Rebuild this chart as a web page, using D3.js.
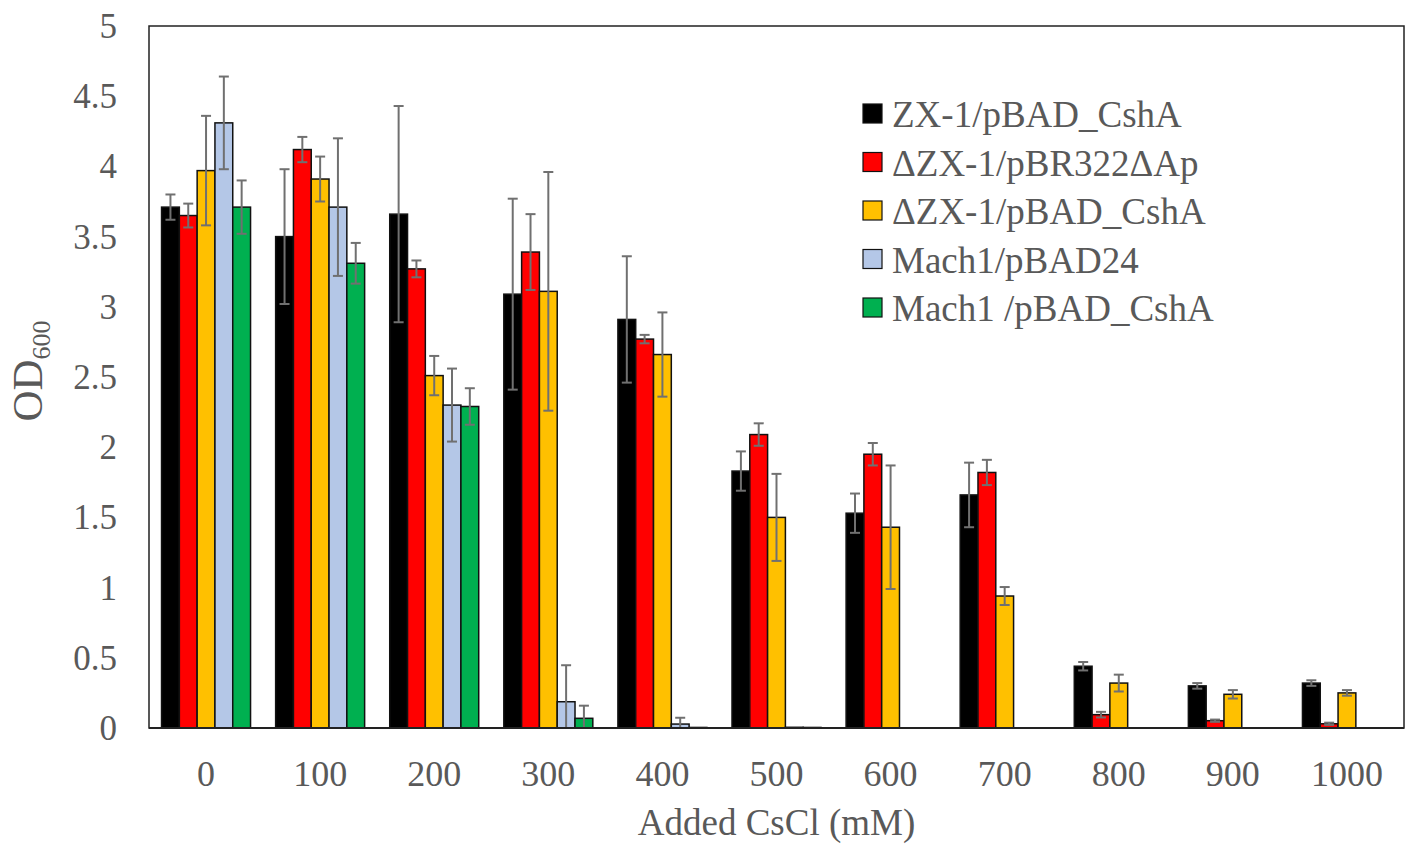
<!DOCTYPE html>
<html>
<head>
<meta charset="utf-8">
<script src="https://cdn.jsdelivr.net/npm/d3@7"></script>
<style>
  body { margin: 0; background: #fff; }
  text { font-family: "Liberation Serif", "Times New Roman", serif; fill: #595959; }
</style>
</head>
<body>
<div id="chart"></div>
<script>
// OD600 after growth with added CsCl
const categories = ["0", "100", "200", "300", "400", "500", "600", "700", "800", "900", "1000"]
const seriesNames = ["ZX-1/pBAD_CshA", "\u0394ZX-1/pBR322\u0394Ap", "\u0394ZX-1/pBAD_CshA", "Mach1/pBAD24", "Mach1 /pBAD_CshA"]
const seriesColors = ["#000000", "#ff0000", "#ffc000", "#b4c7e7", "#00b050"]

const zx1Csha      = [3.71, 3.50, 3.66, 3.09, 2.91, 1.83, 1.53, 1.66, 0.44, 0.30, 0.32]
const zx1CshaErr   = [0.09, 0.48, 0.77, 0.68, 0.45, 0.14, 0.14, 0.23, 0.03, 0.02, 0.02]
const dzxPbr       = [3.65, 4.12, 3.27, 3.39, 2.77, 2.09, 1.95, 1.82, 0.095, 0.052, 0.03]
const dzxPbrErr    = [0.085, 0.09, 0.06, 0.27, 0.03, 0.08, 0.08, 0.09, 0.02, 0.008, 0.008]
const dzxCsha      = [3.97, 3.91, 2.51, 3.11, 2.66, 1.50, 1.43, 0.94, 0.32, 0.24, 0.25]
const dzxCshaErr   = [0.39, 0.16, 0.14, 0.85, 0.30, 0.31, 0.44, 0.064, 0.06, 0.03, 0.02]
const mach1Pbad    = [4.31, 3.71, 2.30, 0.187, 0.028, 0.005, null, null, null, null, null]
const mach1PbadErr = [0.33, 0.49, 0.26, 0.26, 0.045, 0, null, null, null, null, null]
const mach1Csha    = [3.71, 3.31, 2.29, 0.069, 0.004, 0.004, null, null, null, null, null]
const mach1CshaErr = [0.19, 0.145, 0.13, 0.09, 0, 0, null, null, null, null, null]
const yTicks = [0, 0.5, 1, 1.5, 2, 2.5, 3, 3.5, 4, 4.5, 5]

const values = [zx1Csha, dzxPbr, dzxCsha, mach1Pbad, mach1Csha]
const errors = [zx1CshaErr, dzxPbrErr, dzxCshaErr, mach1PbadErr, mach1CshaErr]

const width = 1418, height = 853
const plot = {left: 149, right: 1404, top: 26, bottom: 728}

const svg = d3.select("#chart").append("svg").attr("width", width).attr("height", height)

const x0 = d3.scaleBand().domain(categories).range([plot.left, plot.right]).paddingInner(0.22).paddingOuter(0.11)
const x1 = d3.scaleBand().domain(d3.range(seriesNames.length)).range([0, x0.bandwidth()])
const y = d3.scaleLinear().domain([0, 5]).range([plot.bottom, plot.top])

// flatten to one record per bar
let bars = []
categories.forEach((c, i) => {
    values.forEach((s, k) => {
        if (s[i] != null) bars.push({cat: c, k: k, v: s[i], e: errors[k][i]})
    })
})

// plot frame
svg.append("rect").attr("x", plot.left).attr("y", plot.top)
    .attr("width", plot.right - plot.left).attr("height", plot.bottom - plot.top)
    .attr("fill", "none").attr("stroke", "#222").attr("stroke-width", 1.5)

svg.append("g").selectAll("rect").data(bars).enter().append("rect")
    .attr("x", d => x0(d.cat) + x1(d.k))
    .attr("y", d => y(d.v))
    .attr("width", x1.bandwidth())
    .attr("height", d => y(0) - y(d.v))
    .attr("fill", d => seriesColors[d.k])
    .attr("stroke", "#111").attr("stroke-width", 1.5)

// error bars, lower end stops at the axis
const eb = svg.append("g").attr("stroke", "#707070").attr("stroke-width", 2)
bars.filter(d => d.e > 0).forEach(d => {
    let cx = x0(d.cat) + x1(d.k) + x1.bandwidth() / 2
    let clipped = d.v - d.e < 0
    let lo = y(Math.max(0, d.v - d.e)), hi = y(d.v + d.e)
    eb.append("line").attr("x1", cx).attr("x2", cx).attr("y1", lo).attr("y2", hi)
    if (!clipped) eb.append("line").attr("x1", cx - 5).attr("x2", cx + 5).attr("y1", lo).attr("y2", lo)
    eb.append("line").attr("x1", cx - 5).attr("x2", cx + 5).attr("y1", hi).attr("y2", hi)
})

// baseline
svg.append("line").attr("x1", plot.left).attr("x2", plot.right).attr("y1", y(0)).attr("y2", y(0))
    .attr("stroke", "#222").attr("stroke-width", 2)

// axes, tick labels only
const yAxis = svg.append("g").attr("transform", "translate(" + plot.left + ",0)")
    .call(d3.axisLeft(y).tickValues(yTicks).tickSize(0).tickPadding(32).tickFormat(d3.format("~g")))
yAxis.attr("font-family", null)
yAxis.select(".domain").remove()
yAxis.selectAll("text").style("font-size", "35px").attr("dy", "0.33em")

const xAxis = svg.append("g").attr("transform", "translate(0," + plot.bottom + ")")
    .call(d3.axisBottom(x0).tickSize(0).tickPadding(32))
xAxis.attr("font-family", null)
xAxis.select(".domain").remove()
xAxis.selectAll("text").style("font-size", "36px").attr("dy", "0.71em")

// axis titles
svg.append("text").attr("x", (plot.left + plot.right) / 2).attr("y", 835)
    .attr("text-anchor", "middle").style("font-size", "37px").text("Added CsCl (mM)")

const yt = svg.append("text").attr("transform", "translate(42,371) rotate(-90)")
    .attr("text-anchor", "middle").style("font-size", "43px")
yt.append("tspan").text("OD")
yt.append("tspan").attr("dy", 8).style("font-size", "26px").text("600")

// legend
const legend = svg.append("g").attr("transform", "translate(863,104)")
const item = legend.selectAll("g").data(seriesNames).enter().append("g")
    .attr("transform", (d, i) => "translate(0," + (i * 48.5) + ")")
item.append("rect").attr("width", 19).attr("height", 19)
    .attr("fill", (d, i) => seriesColors[i]).attr("stroke", "#111").attr("stroke-width", 1.2)
item.append("text").attr("x", 29).attr("y", 23).style("font-size", "37px").text(d => d)
</script>
</body>
</html>
